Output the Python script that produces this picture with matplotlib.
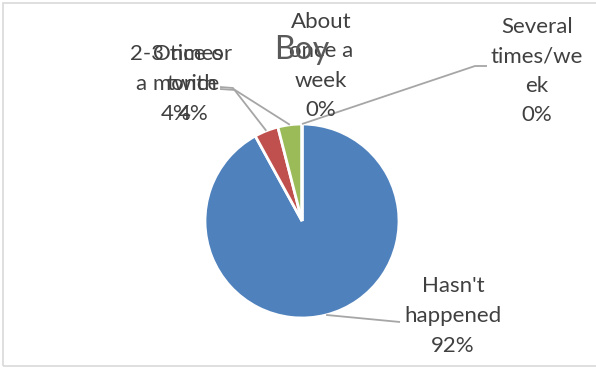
import numpy as np
import matplotlib
matplotlib.use("Agg")
import matplotlib.pyplot as plt
from matplotlib.patches import Rectangle

# ---------------- data ----------------
categories = ["Hasn't\nhappened", "Once or\ntwice", "2-3 times\na month",
              "About\nonce a\nweek", "Several\ntimes/we\nek"]
values = [92, 4, 4, 0, 0]
colors = ["#4F81BD", "#C0504D", "#9BBB59", "#8064A2", "#4BACC6"]
title = "Boy"

W, H = 596, 368
plt.rcParams['font.family'] = ['Lato', 'DejaVu Sans']

fig = plt.figure(figsize=(W / 100, H / 100), dpi=100)
ax = fig.add_axes([0, 0, 1, 1])

def py(y):
    # pixel row (top = 0) -> data y
    return H - y

cx, cy, R = 302, py(221), 97
wedges, _ = ax.pie(values, colors=colors, startangle=90, counterclock=False,
                   center=(cx, cy), radius=R,
                   wedgeprops=dict(edgecolor="white", linewidth=2))

ax.set_xlim(0, W)
ax.set_ylim(0, H)
ax.set_aspect("equal")
ax.axis("off")

# chart border
fig.patches.append(Rectangle((3 / W, 2 / H), (W + 5) / W, (H - 5) / H,
                             transform=fig.transFigure, fill=False,
                             edgecolor="#D9D9D9", linewidth=1.2))

def edge_point(w):
    a = np.deg2rad((w.theta1 + w.theta2) / 2)
    return w.center[0] + w.r * np.cos(a), w.center[1] + w.r * np.sin(a)

txt = dict(fontsize=16, color="#404040", ha="center", va="center",
           multialignment="center", linespacing=1.6)
pct = [f"{v}%" for v in values]

# labels (text positions in pixels)
label_pos = [(453, 316), (193, 84), (176, 84), (321, 66), (537, 71)]
for cat, p, (lx, ly) in zip(categories, pct, label_pos):
    ax.text(lx, py(ly), f"{cat}\n{p}", **txt)

line_kw = dict(color="#A6A6A6", linewidth=1.3, solid_capstyle="butt")

# leader lines
x0, y0 = edge_point(wedges[0])
ax.plot([x0, 400], [y0, py(322)], **line_kw)
x1, y1 = edge_point(wedges[1])
ax.plot([x1, 233, 220], [y1, py(88), py(87)], **line_kw)
x2, y2 = edge_point(wedges[2])
ax.plot([x2, 235, 220], [y2, py(90), py(89)], **line_kw)
x4, y4 = edge_point(wedges[4])
ax.plot([x4, 475, 487], [y4, py(66), py(66)], **line_kw)

ax.text(302, py(59), title, fontsize=23, color="#595959", ha="center", va="baseline")

fig.savefig("out.png", dpi=100)
